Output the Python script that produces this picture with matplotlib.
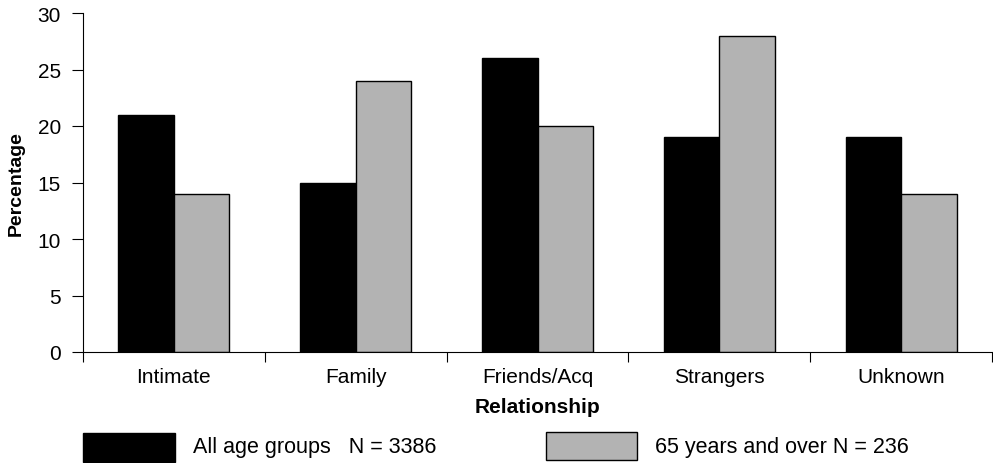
import matplotlib
matplotlib.use("Agg")
import matplotlib.pyplot as plt
from matplotlib.patches import Rectangle
import numpy as np

categories = ["Intimate", "Family", "Friends/Acq", "Strangers", "Unknown"]
all_ages = [21, 15, 26, 19, 19]
over65 = [14, 24, 20, 28, 14]
yticks = [0, 5, 10, 15, 20, 25, 30]
label_all = "All age groups   N = 3386"
label_65 = "65 years and over N = 236"

plt.rcParams['font.family'] = ['Liberation Sans', 'DejaVu Sans']
FS = 15

W, H = 993, 464
fig = plt.figure(figsize=(W / 100, H / 100), dpi=100)
ax = fig.add_axes([83 / W, 111 / H, 909 / W, 339 / H])

x = np.arange(len(categories))
bw = 0.305
ax.bar(x - bw / 2, all_ages, bw, color="black", edgecolor="black", linewidth=1)
ax.bar(x + bw / 2, over65, bw, color="#b3b3b3", edgecolor="black", linewidth=1)

ax.set_xlim(-0.5, len(categories) - 0.5)
ax.set_ylim(0, 30)
ax.set_yticks(yticks)
ax.set_yticklabels([str(v) for v in yticks], fontsize=FS)
ax.tick_params(axis="y", length=8, width=0.8, pad=8, direction="out")

ax.set_xticks(x)
ax.set_xticklabels(categories, fontsize=FS)
ax.tick_params(axis="x", which="major", length=0, pad=11)
ax.set_xticks(np.arange(-0.5, len(categories) + 0.5, 1), minor=True)
ax.tick_params(axis="x", which="minor", length=7, width=0.8, direction="out")

for s in ["top", "right"]:
    ax.spines[s].set_visible(False)
for s in ["left", "bottom"]:
    ax.spines[s].set_linewidth(0.8)

ax.set_ylabel("Percentage", fontsize=FS - 1, fontweight="bold", labelpad=9)
ax.set_xlabel("Relationship", fontsize=FS, fontweight="bold", labelpad=8)

# legend
fig.add_artist(Rectangle((83 / W, (H - 463) / H), 92 / W, 29 / H,
                         transform=fig.transFigure, facecolor="black",
                         edgecolor="black", linewidth=1))
fig.text(193 / W, (H - 448) / H, label_all, fontsize=FS + 0.5, va="center", ha="left")
fig.add_artist(Rectangle((546 / W, (H - 461) / H), 91 / W, 28 / H,
                         transform=fig.transFigure, facecolor="#b3b3b3",
                         edgecolor="black", linewidth=1))
fig.text(655 / W, (H - 448) / H, label_65, fontsize=FS + 0.5, va="center", ha="left")

fig.savefig("out.png", dpi=100)
